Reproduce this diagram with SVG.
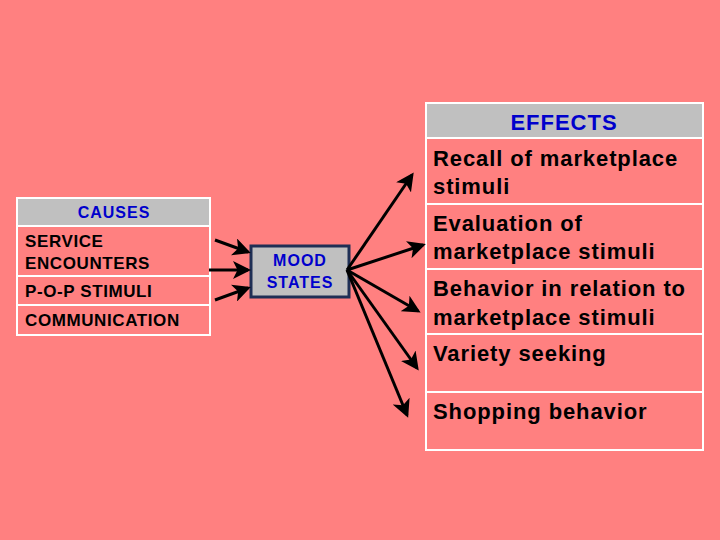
<svg xmlns="http://www.w3.org/2000/svg" width="720" height="540" viewBox="0 0 720 540">
<style>
.bg{fill:#FF8080}
.cell{fill:#FF8080;stroke:#FFFFFF;stroke-width:2}
.hdr{fill:#C0C0C0;stroke:#FFFFFF;stroke-width:2}
.h{font-family:"Liberation Sans",Arial,sans-serif;font-weight:bold;fill:#0000CC;text-anchor:middle}
.c{font-family:"Liberation Sans",Arial,sans-serif;font-weight:bold;font-size:17px;letter-spacing:0.6px;fill:#000000}
.e{font-family:"Liberation Sans",Arial,sans-serif;font-weight:bold;font-size:22px;letter-spacing:0.9px;fill:#000000}
.arr{stroke:#000000;stroke-width:3;fill:none;marker-end:url(#ah)}
</style>
<defs>
<marker id="ah" markerWidth="6" markerHeight="6" refX="5" refY="3" orient="auto" markerUnits="strokeWidth">
<path d="M0,0 L6,3 L0,6 L1.5,3 Z" fill="#000000"/>
</marker>
</defs>
<rect class="bg" x="0" y="0" width="720" height="540"/>
<g id="causes">
<rect class="hdr" x="17" y="198" width="193" height="28"/>
<text class="h" x="114" y="218" font-size="16" letter-spacing="1">CAUSES</text>
<rect class="cell" x="17" y="226" width="193" height="50"/>
<text class="c" x="25" y="247">SERVICE</text>
<text class="c" x="25" y="269">ENCOUNTERS</text>
<rect class="cell" x="17" y="276" width="193" height="29"/>
<text class="c" x="25" y="297">P-O-P STIMULI</text>
<rect class="cell" x="17" y="305" width="193" height="30"/>
<text class="c" x="25" y="326">COMMUNICATION</text>
</g>
<g id="mood">
<rect x="251" y="246" width="98" height="51" fill="#C0C0C0" stroke="#1F2F55" stroke-width="3"/>
<text class="h" x="300" y="266" font-size="16" letter-spacing="1">MOOD</text>
<text class="h" x="300" y="288" font-size="16" letter-spacing="1">STATES</text>
</g>
<g id="effects">
<rect class="hdr" x="426" y="103" width="277" height="35"/>
<text class="h" x="564" y="130" font-size="22" letter-spacing="1">EFFECTS</text>
<rect class="cell" x="426" y="138" width="277" height="66"/>
<text class="e" x="433" y="166">Recall of marketplace</text>
<text class="e" x="433" y="194">stimuli</text>
<rect class="cell" x="426" y="204" width="277" height="65"/>
<text class="e" x="433" y="231">Evaluation of</text>
<text class="e" x="433" y="259">marketplace stimuli</text>
<rect class="cell" x="426" y="269" width="277" height="65"/>
<text class="e" x="433" y="296">Behavior in relation to</text>
<text class="e" x="433" y="325">marketplace stimuli</text>
<rect class="cell" x="426" y="334" width="277" height="58"/>
<text class="e" x="433" y="361">Variety seeking</text>
<rect class="cell" x="426" y="392" width="277" height="58"/>
<text class="e" x="433" y="419">Shopping behavior</text>
</g>
<g id="connectors">
<line class="arr" x1="215" y1="240" x2="248" y2="252"/>
<line class="arr" x1="209" y1="270" x2="248" y2="270"/>
<line class="arr" x1="215" y1="300" x2="248" y2="288"/>
<line class="arr" x1="347" y1="270" x2="412" y2="175"/>
<line class="arr" x1="347" y1="270" x2="423" y2="245"/>
<line class="arr" x1="347" y1="270" x2="418" y2="311"/>
<line class="arr" x1="347" y1="270" x2="417" y2="368"/>
<line class="arr" x1="347" y1="270" x2="407" y2="415"/>
</g>
</svg>
